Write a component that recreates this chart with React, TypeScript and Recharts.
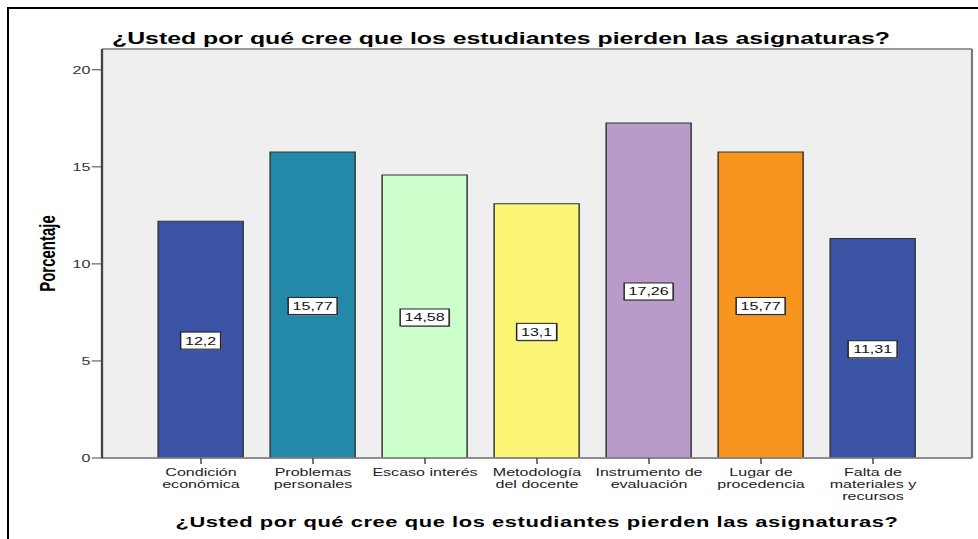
import {
  Bar,
  BarChart,
  CartesianGrid,
  Cell,
  Label,
  LabelList,
  XAxis,
  YAxis,
} from "recharts";

const categories = [
  "Condición\neconómica",
  "Problemas\npersonales",
  "Escaso interés",
  "Metodología\ndel docente",
  "Instrumento de\nevaluación",
  "Lugar de\nprocedencia",
  "Falta de\nmateriales y\nrecursos",
];
const percentages = [12.2, 15.77, 14.58, 13.1, 17.26, 15.77, 11.31];
const barColors = [
  "#3b53a5",
  "#2389a9",
  "#ccffcc",
  "#fbf675",
  "#b99bca",
  "#f7951e",
  "#3b53a5",
];
const yTicks = [0, 5, 10, 15, 20];
const title = "¿Usted por qué cree que los estudiantes pierden las asignaturas?";
const yTitle = "Porcentaje";

// the reference is stretched sideways, so the chart is drawn narrow and scaled in x
const S = 1.46;
const W = 978 / S;
const Y_MAX = 21.07;
const PLOT_TOP = 49;
const PLOT_BOTTOM = 458;
const PLOT_LEFT = 102 / S;
const PLOT_RIGHT = 972 / S;
const FONT = "'Liberation Sans', Arial, sans-serif";

const data = categories.map((name, i) => ({ name, value: percentages[i] }));

function CategoryTick({ x, y, payload }: any) {
  const lines = String(payload.value).split("\n");
  return (
    <text x={x} y={y} textAnchor="middle" fontSize={11} fill="#222" fontFamily={FONT}>
      {lines.map((line, i) => (
        <tspan key={i} x={x} dy={i === 0 ? 12.5 : 12}>
          {line}
        </tspan>
      ))}
    </text>
  );
}

function ValueBox(props: any) {
  const { x, y, width, height, value } = props;
  const text = String(value).replace(".", ",");
  const tw = [...text].reduce((s, c) => s + (c === "," ? 0.278 : 0.556), 0) * 11;
  const bw = tw + 6;
  const bh = 17;
  const cx = x + width / 2;
  const cy = y + height / 2 + 1;
  return (
    <g>
      <rect x={cx - bw / 2 + 0.7} y={cy - bh / 2 + 1} width={bw} height={bh} fill="#8a8a8a" />
      <rect x={cx - bw / 2} y={cy - bh / 2} width={bw} height={bh} fill="#fff" stroke="#222" strokeWidth={1} />
      <text x={cx} y={cy + 4} textAnchor="middle" fontSize={11} fill="#111" fontFamily={FONT}>
        {text}
      </text>
    </g>
  );
}

export default function App() {
  return (
    <div style={{ position: "relative", width: 978, height: 539, background: "#fff", overflow: "hidden" }}>
      <style>{"body{margin:0;overflow:hidden}"}</style>
      <div
        style={{
          position: "absolute",
          left: 7,
          top: 7,
          width: 971,
          height: 532,
          boxSizing: "border-box",
          borderTop: "2px solid #000",
          borderLeft: "2px solid #000",
        }}
      />
      <div
        style={{
          position: "absolute",
          left: 0,
          top: 0,
          width: W,
          height: 539,
          transform: `scaleX(${S})`,
          transformOrigin: "0 0",
        }}
      >
        <div
          style={{
            position: "absolute",
            left: 112 / S,
            top: 30,
            fontFamily: FONT,
            fontSize: 17,
            fontWeight: "bold",
            lineHeight: "17px",
            whiteSpace: "nowrap",
            color: "#000",
          }}
        >
          {title}
        </div>
        <BarChart
          width={W}
          height={539}
          data={data}
          margin={{ top: PLOT_TOP, left: 0, right: W - PLOT_RIGHT, bottom: 0 }}
        >
          {/* plot frame: background plus the four border lines */}
          <CartesianGrid
            fill="#efefef"
            fillOpacity={1}
            stroke="#7a7a7a"
            strokeWidth={1.5}
            horizontalPoints={[PLOT_TOP, PLOT_BOTTOM]}
            verticalPoints={[PLOT_LEFT, PLOT_RIGHT]}
          />
          <XAxis
            dataKey="name"
            height={539 - PLOT_BOTTOM}
            padding={{ left: 29.45, right: 29.45 }}
            interval={0}
            tick={<CategoryTick />}
            tickSize={6}
            tickMargin={0}
            tickLine={{ stroke: "#444" }}
            axisLine={{ stroke: "#8a8a8a", strokeWidth: 1.5 }}
          >
            <Label
              content={({ viewBox }: any) => (
                <text
                  x={viewBox.x + viewBox.width / 2}
                  y={527}
                  textAnchor="middle"
                  fontSize={15}
                  fontWeight="bold"
                  letterSpacing={0.4}
                  fill="#000"
                  fontFamily={FONT}
                >
                  {title}
                </text>
              )}
            />
          </XAxis>
          <YAxis
            width={PLOT_LEFT}
            domain={[0, Y_MAX]}
            ticks={yTicks}
            allowDataOverflow
            tickSize={7}
            tickMargin={1}
            tick={{ fontSize: 11, fill: "#333", fontFamily: FONT }}
            tickLine={{ stroke: "#444" }}
            axisLine={{ stroke: "#444", strokeWidth: 1.5 }}
          >
            <Label
              content={({ viewBox }: any) => {
                const cx = 47 / S;
                const cy = viewBox.y + viewBox.height / 2;
                return (
                  <text
                    x={cx}
                    y={cy}
                    transform={`rotate(-90 ${cx} ${cy})`}
                    textAnchor="middle"
                    dominantBaseline="central"
                    fontSize={15}
                    fontWeight="bold"
                    fill="#000"
                    fontFamily={FONT}
                  >
                    {yTitle}
                  </text>
                );
              }}
            />
          </YAxis>
          <Bar dataKey="value" barSize={85 / S} stroke="#333" strokeWidth={1} isAnimationActive={false}>
            {data.map((_, i) => (
              <Cell key={i} fill={barColors[i % barColors.length]} />
            ))}
            <LabelList dataKey="value" content={<ValueBox />} />
          </Bar>
        </BarChart>
      </div>
    </div>
  );
}
